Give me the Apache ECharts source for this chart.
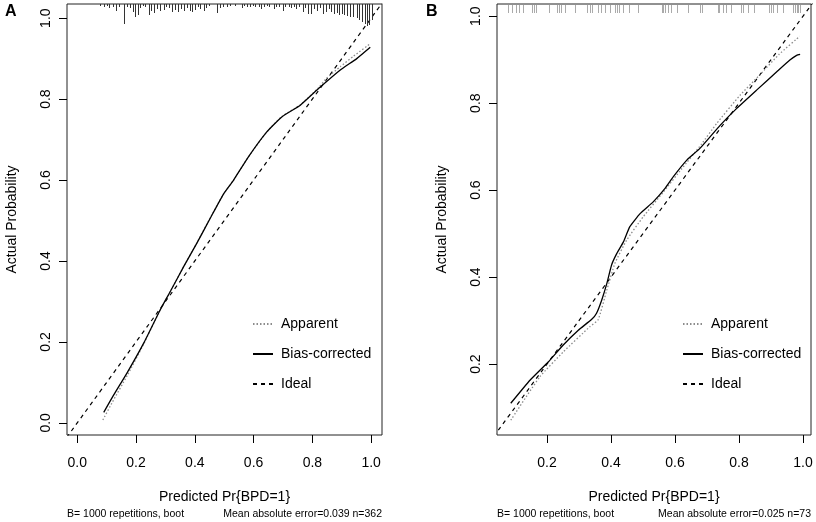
<!DOCTYPE html>
<html><head><meta charset="utf-8">
<script src="https://cdn.jsdelivr.net/npm/echarts@6/dist/echarts.min.js"></script>
<style>html,body{margin:0;padding:0;background:#fff}#c{width:816px;height:522px}</style>
</head><body><div id="c"></div>
<script>
// ---------- data ----------
const ticksA = [0.0, 0.2, 0.4, 0.6, 0.8, 1.0];
const ticksB = [0.2, 0.4, 0.6, 0.8, 1.0];
const legendNames = ['Apparent', 'Bias-corrected', 'Ideal'];
const idealRange = [-0.1, 1.1];

const apparentA = [[0.087,0.007],[0.120,0.052],[0.170,0.117],[0.226,0.195],[0.282,0.279],[0.316,0.324],[0.362,0.386],[0.407,0.445],[0.452,0.506],[0.498,0.566],[0.532,0.600],[0.583,0.658],[0.645,0.719],[0.696,0.757],[0.759,0.786],[0.821,0.828],[0.849,0.852],[0.895,0.880],[0.940,0.906],[0.997,0.937]];
const biasA = [[0.090,0.026],[0.124,0.069],[0.169,0.123],[0.226,0.197],[0.282,0.279],[0.316,0.324],[0.362,0.386],[0.407,0.444],[0.452,0.505],[0.498,0.566],[0.532,0.600],[0.583,0.658],[0.645,0.719],[0.696,0.756],[0.759,0.785],[0.821,0.826],[0.895,0.872],[0.951,0.900],[0.997,0.928]];

const apparentB = [[0.087,0.071],[0.178,0.171],[0.251,0.228],[0.334,0.286],[0.360,0.302],[0.387,0.370],[0.412,0.431],[0.449,0.485],[0.501,0.539],[0.563,0.595],[0.620,0.648],[0.682,0.705],[0.730,0.753],[0.803,0.818],[0.865,0.865],[0.925,0.912],[0.990,0.954]];
const biasB = [[0.087,0.110],[0.147,0.163],[0.204,0.205],[0.251,0.244],[0.298,0.278],[0.340,0.303],[0.355,0.317],[0.371,0.347],[0.387,0.385],[0.402,0.428],[0.418,0.454],[0.439,0.481],[0.459,0.516],[0.491,0.546],[0.532,0.573],[0.569,0.604],[0.595,0.631],[0.637,0.669],[0.678,0.696],[0.741,0.749],[0.793,0.788],[0.855,0.830],[0.918,0.872],[0.959,0.899],[0.980,0.910],[0.991,0.912]];

// histogram spikes of predicted probabilities (panel A): value, relative frequency
const rugAx = [0.078,0.090,0.101,0.109,0.120,0.132,0.143,0.159,0.169,0.178,0.188,0.197,0.205,0.214,0.222,0.231,0.243,0.252,0.261,0.272,0.283,0.294,0.303,0.313,0.324,0.333,0.342,0.353,0.362,0.372,0.382,0.390,0.401,0.410,0.419,0.430,0.438,0.447,0.475,0.484,0.496,0.509,0.520,0.537,0.560,0.568,0.579,0.588,0.598,0.605,0.617,0.625,0.636,0.645,0.654,0.668,0.677,0.688,0.700,0.707,0.719,0.727,0.736,0.745,0.756,0.768,0.776,0.785,0.795,0.804,0.815,0.827,0.836,0.845,0.855,0.864,0.874,0.883,0.892,0.900,0.909,0.919,0.929,0.940,0.951,0.960,0.969,0.979,0.986,0.994,1.002];
const rugAf = [2,3,2,4,3,7,3,20,3,4,8,13,11,4,2,3,11,7,9,5,7,6,3,4,8,6,8,5,7,4,7,8,6,3,5,7,4,2,9,4,3,3,2,2,4,2,3,3,2,3,3,5,3,2,3,5,3,3,7,3,3,4,3,5,3,8,4,10,10,5,7,4,10,8,5,8,10,9,11,10,11,12,13,13,14,16,18,20,22,21,16];
// rug of predicted probabilities (panel B)
const rugBx = [0.079,0.092,0.102,0.114,0.126,0.154,0.160,0.165,0.206,0.230,0.237,0.244,0.258,0.288,0.324,0.334,0.342,0.358,0.369,0.381,0.397,0.413,0.418,0.425,0.439,0.456,0.485,0.558,0.564,0.569,0.577,0.588,0.605,0.640,0.678,0.683,0.733,0.738,0.751,0.761,0.775,0.806,0.814,0.829,0.848,0.894,0.900,0.907,0.918,0.939,0.970,0.975,0.980,0.985,0.990];

// ---------- chart ----------
const FONT = '"Liberation Sans", Arial, Helvetica, sans-serif';
const fmt = v => v.toFixed(1);
function xAx(gi, min, max, ticks) {
  return {
    type: 'value', gridIndex: gi, min: min, max: max,
    name: 'Predicted Pr{BPD=1}', nameLocation: 'middle', nameGap: 55,
    nameTextStyle: { fontFamily: FONT, fontSize: 14, color: '#000' },
    axisLine: { show: false, onZero: false },
    axisTick: { show: true, length: 8, customValues: ticks, lineStyle: { color: '#000' } },
    axisLabel: { customValues: ticks, formatter: fmt, margin: 21, fontFamily: FONT, fontSize: 14, color: '#000' },
    splitLine: { show: false }
  };
}
function yAx(gi, min, max, ticks) {
  return {
    type: 'value', gridIndex: gi, min: min, max: max,
    name: 'Actual Probability', nameLocation: 'middle', nameGap: 48, nameRotate: 90,
    nameTextStyle: { fontFamily: FONT, fontSize: 14, color: '#000' },
    axisLine: { show: false, onZero: false },
    axisTick: { show: true, length: 8, customValues: ticks, lineStyle: { color: '#000' } },
    axisLabel: { customValues: ticks, formatter: fmt, rotate: 90, margin: 14, fontFamily: FONT, fontSize: 14, color: '#000' },
    splitLine: { show: false }
  };
}
function spikes(yTop, offset, color) {
  return function (params, api) {
    const p = api.coord([api.value(0), yTop]);
    const x = Math.round(p[0]) + 0.5;
    const y0 = p[1] + offset;
    return { type: 'line', shape: { x1: x, y1: y0, x2: x, y2: y0 + api.value(1) },
             style: { stroke: color, lineWidth: 1 } };
  };
}
const limA = { x: [-0.035, 1.037], y: [-0.03, 1.035] };
const limB = { x: [0.044, 1.025], y: [0.037, 1.028] };
const idealData = idealRange.map(v => [v, v]);
const lineSeries = (name, gi, data, style) => ({
  name: name, type: 'line', xAxisIndex: gi, yAxisIndex: gi, data: data,
  showSymbol: false, symbol: 'none', smooth: 0.15, clip: true, lineStyle: style, color: style.color, z: 3
});
const stApp = { color: '#8c8c8c', width: 1.3, type: [1.5, 2] };
const stBias = { color: '#000', width: 1.3, type: 'solid' };
const stIdeal = { color: '#000', width: 1.2, type: [4, 4] };

const legendCfg = (left) => ({
  show: true, orient: 'vertical', left: left, top: 312, itemWidth: 20, itemHeight: 12, itemGap: 16,
  data: legendNames, selectedMode: false,
  itemStyle: { opacity: 0 },
  textStyle: { fontFamily: FONT, fontSize: 14, color: '#000', padding: [0, 0, 0, 3] }
});

const option = {
  animation: false,
  backgroundColor: '#fff',
  grid: [
    { left: 67, top: 4, width: 315, height: 431, show: true, borderColor: '#222', borderWidth: 1, backgroundColor: 'transparent' },
    { left: 497, top: 4, width: 314, height: 431, show: true, borderColor: '#222', borderWidth: 1, backgroundColor: 'transparent' }
  ],
  xAxis: [xAx(0, limA.x[0], limA.x[1], ticksA), xAx(1, limB.x[0], limB.x[1], ticksB)],
  yAxis: [yAx(0, limA.y[0], limA.y[1], ticksA), yAx(1, limB.y[0], limB.y[1], ticksB)],
  legend: [legendCfg(247), legendCfg(677)],
  series: [
    lineSeries('Ideal', 0, idealData, stIdeal),
    lineSeries('Apparent', 0, apparentA, stApp),
    lineSeries('Bias-corrected', 0, biasA, stBias),
    lineSeries('Ideal', 1, idealData, stIdeal),
    lineSeries('Apparent', 1, apparentB, stApp),
    lineSeries('Bias-corrected', 1, biasB, stBias),
    { type: 'custom', xAxisIndex: 0, yAxisIndex: 0, renderItem: spikes(limA.y[1], 0, '#333'),
      data: rugAx.map((x, i) => [x, rugAf[i]]), silent: true, z: 4 },
    { type: 'custom', xAxisIndex: 1, yAxisIndex: 1, renderItem: spikes(limB.y[1], 1, '#aaa'),
      data: rugBx.map(x => [x, 8]), silent: true, z: 4 }
  ],
  graphic: [
    { type: 'text', left: 5, top: 4, style: { text: 'A', font: 'bold 16px ' + FONT, fill: '#000' } },
    { type: 'text', left: 426, top: 4, style: { text: 'B', font: 'bold 16px ' + FONT, fill: '#000' } },
    { type: 'text', left: 67, top: 509, style: { text: 'B= 1000 repetitions, boot', font: '10.5px ' + FONT, fill: '#000' } },
    { type: 'text', right: 816 - 382, top: 509, style: { text: 'Mean absolute error=0.039 n=362', font: '10.5px ' + FONT, fill: '#000' } },
    { type: 'text', left: 497, top: 509, style: { text: 'B= 1000 repetitions, boot', font: '10.5px ' + FONT, fill: '#000' } },
    { type: 'text', right: 5, top: 509, style: { text: 'Mean absolute error=0.025 n=73', font: '10.5px ' + FONT, fill: '#000' } }
  ]
};
const chart = echarts.init(document.getElementById('c'), null, { renderer: 'canvas' });
chart.setOption(option);
</script>
</body></html>
